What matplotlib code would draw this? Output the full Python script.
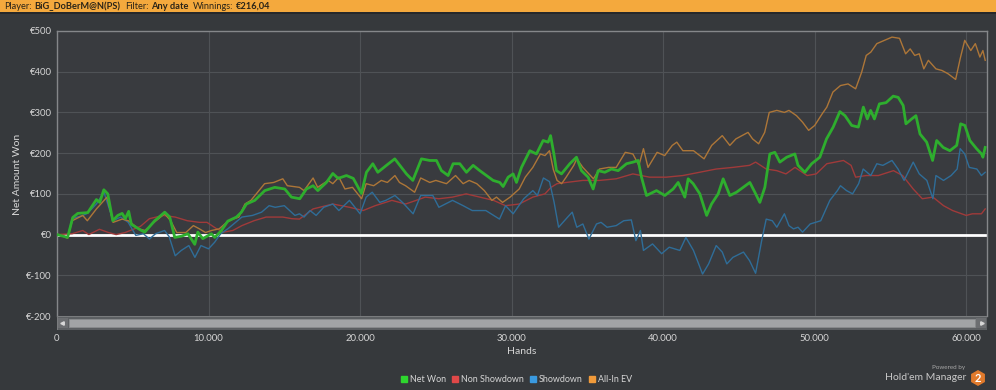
import matplotlib
matplotlib.use("Agg")
import matplotlib.pyplot as plt
from matplotlib.patches import Rectangle, RegularPolygon
from matplotlib.lines import Line2D
from matplotlib.ticker import FuncFormatter, MultipleLocator
import matplotlib.transforms as mtrans

plt.rcParams['font.family'] = ['Lato', 'DejaVu Sans']

# Net Won (green)
nw_hands = [0, 400, 700, 1040, 1370, 2030, 2600, 2820, 3090, 3350, 3680, 4010, 4300, 4510, 4730, 4910,
            5570, 5790, 6450, 7110, 7440, 7770, 8210, 8640, 9090, 9290, 9620, 10190, 10410, 10850,
            11270, 11840, 12170, 12500, 13050, 13710, 14370, 15030, 15470, 16020, 16460, 16900, 17210,
            17780, 18200, 18550, 19100, 19550, 20090, 20420, 20840, 21170, 21740, 22290, 22620, 23060,
            23480, 24050, 24600, 25040, 25370, 25810, 26140, 26580, 27020, 27460, 27900, 28340, 28780,
            29220, 29440, 29770, 30100, 30320, 30650, 31200, 31640, 32080, 32410, 32570, 32790, 32960,
            33290, 33840, 34280, 34610, 35050, 35380, 35710, 36150, 36590, 37030, 37580, 38020, 38350,
            38570, 38900, 39560, 40110, 40660, 40990, 41430, 41650, 41980, 42420, 42870, 43190, 43630,
            43960, 44400, 44840, 45280, 45720, 46050, 46380, 46710, 47040, 47370, 47700, 48150, 48690,
            48900, 49350, 49800, 50340, 50780, 51220, 51660, 52000, 52440, 52880, 53210, 53470, 53690,
            53940, 54270, 54710, 55180, 55510, 55840, 56020, 56400, 56680, 56950, 57390, 57780, 58050,
            58480, 58920, 59370, 59630, 59910, 60240, 60680, 61010, 61100, 61250]
nw_vals = [0, -4, -7, 42, 52, 54, 86, 79, 110, 100, 34, 47, 52, 39, 57, 25,
           10, 6, 34, 55, 43, -7, -4, 2, -24, 6, -10, 2, -7, 10,
           33, 43, 55, 75, 84, 108, 116, 112, 92, 88, 112, 120, 108,
           128, 150, 138, 145, 138, 101, 153, 174, 153, 170, 186, 170, 149,
           133, 186, 182, 182, 157, 145, 174, 174, 153, 170, 157, 145, 133,
           128, 118, 141, 149, 128, 165, 206, 198, 231, 227, 243, 198, 157,
           149, 174, 190, 157, 141, 112, 157, 153, 161, 157, 174, 178, 182,
           141, 96, 108, 96, 112, 128, 92, 137, 125, 100, 47, 75, 100,
           137, 96, 104, 116, 128, 104, 79, 116, 198, 202, 178, 190, 198,
           170, 153, 174, 190, 235, 264, 302, 292, 268, 264, 313, 284, 305,
           284, 321, 324, 340, 337, 317, 272, 284, 292, 247, 227, 182, 231,
           214, 206, 219, 272, 268, 231, 211, 198, 190, 214]

# Non Showdown (red)
ns_hands = [0, 1000, 1700, 2100, 2800, 3400, 3900, 4500, 5500, 6100, 7000, 7800, 8600, 9400, 9900,
            10500, 11000, 11600, 12200, 13000, 13800, 14900, 15500, 16000, 16900, 18200, 19300, 20200,
            21000, 22100, 23000, 23700, 24300, 25200, 26100, 27000, 27900, 28800, 29600, 30500, 31400,
            32200, 32600, 33000, 33600, 34700, 35800, 36900, 38000, 39100, 40200, 41300, 42400, 43500,
            44600, 45700, 46100, 46800, 47500, 48100, 48700, 49500, 50100, 50800, 51900, 52400, 52700,
            53400, 54200, 55200, 55800, 56500, 57100, 57800, 58500, 59100, 60000, 60400, 61000, 61250]
ns_vals = [0, 2, 10, 0, 13, 5, 0, 5, 20, 39, 47, 43, 34, 30, 30,
           15, 6, 10, 22, 34, 43, 43, 39, 38, 63, 75, 67, 59,
           71, 84, 75, 84, 92, 88, 92, 100, 92, 84, 71, 75, 92,
           100, 116, 125, 128, 133, 133, 137, 149, 141, 141, 145, 153, 161,
           165, 170, 178, 161, 157, 149, 165, 145, 149, 174, 182, 170, 141,
           145, 145, 157, 145, 112, 88, 92, 71, 59, 47, 51, 51, 63]

# Showdown (blue)
sd_hands = [0, 400, 700, 1000, 1700, 2000, 2600, 3100, 3700, 4200, 4700, 5200, 5700, 6100, 6500, 7100,
            7400, 7800, 8200, 8700, 9100, 9500, 10000, 10400, 10800, 11300, 12200, 12900, 13500, 14000,
            14400, 15000, 15700, 16000, 16300, 16700, 17100, 17600, 18200, 18600, 19300, 20000, 20400,
            20800, 21300, 21700, 22300, 22800, 23500, 24000, 24800, 25200, 26100, 26800, 27400, 28300,
            29200, 29600, 30100, 30800, 31400, 31700, 32100, 32500, 32800, 33100, 33700, 34000, 34300,
            34700, 35100, 35600, 35900, 36300, 36900, 37400, 37900, 38200, 38500, 38700, 39300, 39900,
            40400, 41100, 41500, 42000, 42600, 43000, 43500, 43900, 44200, 44600, 45300, 45700, 46100,
            46500, 46800, 47200, 47500, 48000, 48300, 48600, 48900, 49200, 49700, 50400, 50700, 51000,
            51500, 51700, 52100, 52500, 52900, 53200, 53700, 54100, 54500, 55100, 55500, 55900, 56500,
            56900, 57400, 57800, 58000, 58500, 59000, 59400, 59600, 59900, 60200, 60700, 61000, 61250]
sd_vals = [0, -4, -6, 39, 47, 52, 75, 104, 34, 43, 30, -2, 2, -11, 2, 10,
           -5, -52, -39, -27, -56, -27, -35, -19, 2, 15, 43, 47, 55, 71,
           67, 71, 47, 51, 43, 59, 47, 67, 75, 59, 84, 51, 92,
           104, 79, 84, 96, 79, 51, 96, 96, 67, 84, 71, 59, 59,
           38, 71, 51, 88, 108, 96, 139, 130, 80, 18, 43, 55, 18,
           26, -11, 26, 30, 18, 22, 34, 36, -15, 10, -39, -23, -47,
           -31, -39, -7, -39, -97, -72, -27, -43, -72, -56, -43, -64, -95,
           -15, 38, 34, 18, 51, 22, 14, 18, 6, 26, 34, 59, 84,
           108, 120, 108, 100, 125, 161, 145, 174, 170, 182, 161, 133, 178,
           149, 133, 88, 145, 133, 145, 161, 211, 198, 165, 161, 145, 153]

# All-In EV (orange)
ev_hands = [0, 400, 700, 1000, 1700, 2000, 2600, 3300, 3700, 4300, 4700, 5400, 5800, 6400, 7100, 7500,
            7900, 8500, 9000, 9400, 9800, 10200, 10700, 11200, 11600, 12000, 12400, 12800, 13700, 14300,
            14900, 15200, 16000, 16300, 16900, 17200, 17900, 18200, 18600, 19000, 19500, 20100, 20400,
            20900, 21400, 21800, 22300, 22600, 23000, 23600, 24000, 24600, 25000, 25700, 26300, 26800,
            27200, 27700, 28200, 28700, 29000, 29400, 29900, 30500, 30900, 31400, 31900, 32200, 32500,
            32750, 33000, 33300, 33600, 34100, 34300, 34700, 35400, 35800, 36400, 36900, 37500, 38000,
            38400, 38700, 39000, 39600, 40100, 40600, 40900, 41300, 42000, 42700, 43200, 43900, 44400,
            44800, 45600, 45900, 46300, 46700, 47000, 47500, 48000, 48300, 48800, 49200, 49600, 50000,
            50500, 50800, 51200, 51700, 52200, 52700, 53100, 53400, 53700, 54100, 54600, 55100, 55600,
            56000, 56300, 56600, 56900, 57200, 57500, 58000, 58400, 58800, 59300, 59600, 59900, 60300,
            60600, 60900, 61100, 61250]
ev_vals = [0, -4, -9, 34, 47, 34, 63, 92, 30, 38, 34, 14, 10, 30, 51, 34,
           5, 5, 22, 14, 5, 10, 14, 30, 38, 43, 75, 84, 125, 128,
           137, 120, 116, 108, 139, 116, 133, 125, 141, 112, 116, 88, 125,
           120, 133, 128, 145, 128, 120, 104, 139, 128, 133, 125, 145, 125,
           133, 125, 108, 84, 92, 79, 92, 112, 141, 165, 198, 194, 206,
           160, 133, 125, 141, 170, 186, 165, 137, 161, 165, 165, 202, 198,
           170, 211, 165, 202, 194, 219, 227, 206, 206, 186, 219, 243, 219,
           235, 251, 235, 223, 251, 300, 305, 300, 305, 292, 276, 256, 268,
           297, 313, 350, 366, 370, 358, 399, 440, 448, 469, 477, 485, 482,
           444, 456, 440, 444, 407, 428, 407, 403, 395, 381, 432, 477, 452,
           469, 436, 452, 428]

series_names = ['Net Won', 'Non Showdown', 'Showdown', 'All-In EV']
line_colors = ['#2eae2e', '#a03a3a', '#2f6d98', '#ad7638']
legend_colors = ['#2ed62e', '#e04848', '#3a9ae0', '#f09a3a']

BG = '#36393c'
TXT = '#d6d6d6'

fig = plt.figure(figsize=(9.96, 3.9), dpi=100, facecolor=BG)
renderer = fig.canvas.get_renderer()

# header bar
fig.add_artist(Rectangle((0, 1 - 12 / 390), 1, 12 / 390, transform=fig.transFigure,
                         facecolor='#f4a93d', edgecolor='none'))
fig.add_artist(Rectangle((0, 1 - 14 / 390), 1, 2 / 390, transform=fig.transFigure,
                         facecolor='#26282a', edgecolor='none'))
header = [('Player:', 'normal', 3), ('BiG_DoBerM@N(PS)', 'bold', 4), ('Filter:', 'normal', 3),
          ('Any date', 'bold', 4), ('Winnings:', 'normal', 3), ('€216,04', 'bold', 0)]
px = 4
for s, w, gap in header:
    t = fig.text(px / 996, 1 - 6.5 / 390, s, fontsize=6.7, fontweight=w, color='#2a2418',
                 va='center', ha='left')
    px += t.get_window_extent(renderer).width + gap

ax = fig.add_axes([57 / 996, 1 - 316 / 390, 930 / 996, 285 / 390])
ax.set_facecolor('#393b3f')
ax.set_xlim(0, 61370)
ax.set_ylim(-200, 500)
ax.xaxis.set_major_locator(MultipleLocator(10000))
ax.yaxis.set_major_locator(MultipleLocator(100))
ax.xaxis.set_major_formatter(FuncFormatter(lambda v, p: '0' if v == 0 else f'{int(v):,}'.replace(',', '.')))
ax.yaxis.set_major_formatter(FuncFormatter(lambda v, p: f'€{int(v)}'))
ax.grid(True, color='#4f5256', linewidth=0.8)
ax.set_axisbelow(True)
ax.tick_params(axis='x', length=0, pad=13, labelsize=6.8, labelcolor=TXT)
ax.tick_params(axis='y', length=0, pad=4, labelsize=6.8, labelcolor=TXT)
for side in ['left', 'top', 'right']:
    ax.spines[side].set_color('#85878a')
    ax.spines[side].set_linewidth(1)
ax.spines['bottom'].set_visible(False)

ax.axhline(0, color='white', linewidth=2, zorder=1.5)

ax.plot(ns_hands, ns_vals, color=line_colors[1], linewidth=1, zorder=2)
ax.plot(sd_hands, sd_vals, color=line_colors[2], linewidth=1, zorder=2)
ax.plot(ev_hands, ev_vals, color=line_colors[3], linewidth=1, zorder=2)
ax.plot(nw_hands, nw_vals, color=line_colors[0], linewidth=2, zorder=3)

# scrollbar
sb = fig.add_axes([57 / 996, 1 - 330 / 390, 930 / 996, 14 / 390])
sb.set_xlim(0, 930)
sb.set_ylim(0, 14)
sb.axis('off')
sb.add_patch(Rectangle((0, 0), 930, 14, facecolor='#5c5f62', edgecolor='#7a7c7e', linewidth=0.8))
sb.add_patch(Rectangle((1, 2), 10, 10, facecolor='#6c6e71', edgecolor='none'))
sb.add_patch(Rectangle((919, 2), 10, 10, facecolor='#6c6e71', edgecolor='none'))
sb.add_patch(Rectangle((12, 3), 906, 8, facecolor='#a2a4a6', edgecolor='#8a8c8e', linewidth=0.6))
sb.plot([5], [7], marker='<', markersize=2.5, color='#d8d8d8')
sb.plot([925], [7], marker='>', markersize=2.5, color='#d8d8d8')

fig.text(18 / 996, 1 - 174 / 390, 'Net Amount Won', rotation=90, fontsize=7.5, color=TXT,
         ha='center', va='center')
fig.text(522 / 996, 1 - 352 / 390, 'Hands', fontsize=7.5, color=TXT, ha='center', va='center')

handles = [Line2D([], [], linestyle='none', marker='s', markersize=4.2, color=c) for c in legend_colors]
fig.legend(handles, series_names, loc='center', bbox_to_anchor=(516 / 996, 1 - 380 / 390), ncol=4,
           frameon=False, fontsize=6.4, labelcolor=TXT, handletextpad=0.3, columnspacing=0.6,
           handlelength=0.8)

# Powered by logo
fig.text(965 / 996, 1 - 368 / 390, 'Powered by', fontsize=4.5, color='#a8a8a8', ha='right', va='center')
fig.text(966 / 996, 1 - 378 / 390, "Hold'em Manager", fontsize=7.5, color='#c8c8c8', ha='right', va='center')
fig.add_artist(RegularPolygon((978, 12), 6, radius=8, orientation=0, facecolor='#e07a2c',
                              edgecolor='none', transform=mtrans.IdentityTransform()))
fig.text(978 / 996, 12 / 390, '2', fontsize=8, fontweight='bold', color='white', ha='center', va='center')

plt.savefig('out.png', dpi=100, facecolor=BG)
